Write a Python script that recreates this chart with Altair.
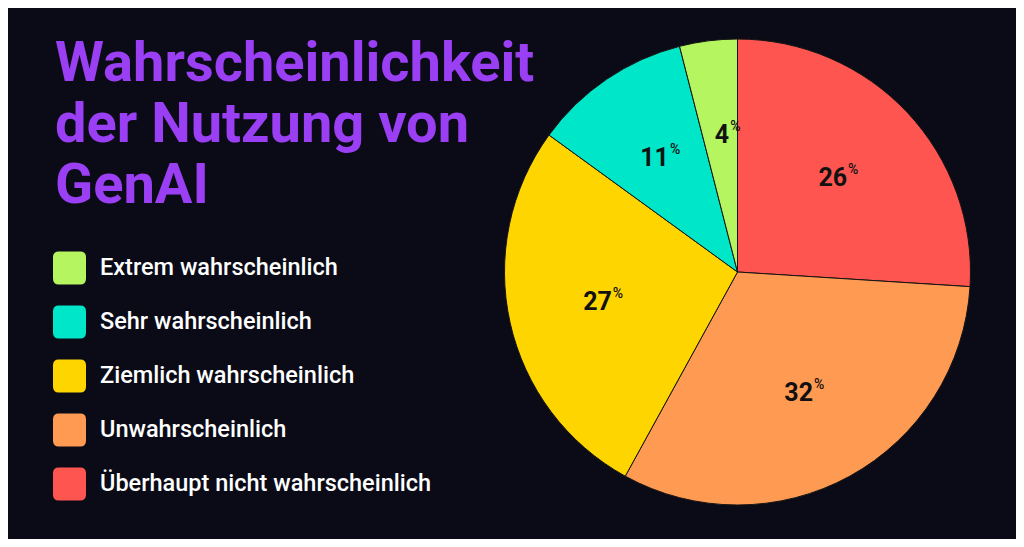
import altair as alt
import pandas as pd

# Data (pie order, clockwise from 12 o'clock)
categories = ["Überhaupt nicht wahrscheinlich", "Unwahrscheinlich",
              "Ziemlich wahrscheinlich", "Sehr wahrscheinlich", "Extrem wahrscheinlich"]
values = [26, 32, 27, 11, 4]

# Legend order and colours
legend_order = ["Extrem wahrscheinlich", "Sehr wahrscheinlich", "Ziemlich wahrscheinlich",
                "Unwahrscheinlich", "Überhaupt nicht wahrscheinlich"]
legend_colors = ["#b5f560", "#00e6c8", "#ffd500", "#ff9a52", "#ff5550"]

title_lines = ["Wahrscheinlichkeit", "der Nutzung von", "GenAI"]

BG = "#0a0b17"
PURPLE = "#9b3ff4"

df = pd.DataFrame({
    "category": categories,
    "value": values,
    "order": list(range(len(categories))),
})
df["label"] = df["value"].astype(str)

cx, cy, R = 729.5, 264, 233
rounded = ("M-0.65,-1 L0.65,-1 Q1,-1 1,-0.65 L1,0.65 Q1,1 0.65,1 L-0.65,1 "
           "Q-1,1 -1,0.65 L-1,-0.65 Q-1,-1 -0.65,-1 Z")

base = alt.Chart(df).encode(
    theta=alt.Theta("value:Q", stack=True),
    order=alt.Order("order:Q"),
    x=alt.value(cx),
    y=alt.value(cy),
)

arcs = base.mark_arc(outerRadius=R, stroke="#141414", strokeWidth=1).encode(
    color=alt.Color(
        "category:N",
        scale=alt.Scale(domain=legend_order, range=legend_colors),
        legend=alt.Legend(
            title=None, orient="none", legendX=45, legendY=243.5,
            direction="vertical", symbolType=rounded, symbolSize=1089,
            symbolStrokeWidth=0, symbolOpacity=1,
            labelFont="Roboto", labelFontSize=23.5, labelFontWeight=500,
            labelColor="#ffffff", labelOffset=14, rowPadding=21,
            padding=0, labelLimit=600,
        ),
    )
)

nums = base.mark_text(radius=138, font="Roboto", fontSize=25, fontWeight="bold",
                      color="#111111", align="right", baseline="middle", dx=9).encode(
    text="label:N"
)

pct = base.mark_text(radius=138, text="%", font="Roboto", fontSize=14, fontWeight=500,
                     color="#111111", align="left", baseline="middle", dx=10, dy=-8)

chart = alt.layer(arcs, nums, pct).properties(
    width=1008, height=531,
    padding=0,
    autosize=alt.AutoSizeParams(type="none"),
    background=BG,
    title=alt.TitleParams(
        text=title_lines, anchor="start", frame="group", orient="top",
        font="Roboto", fontSize=56, fontWeight="bold", color=PURPLE,
        lineHeight=61, baseline="alphabetic", offset=0, dx=47, dy=251,
    ),
).configure_view(strokeWidth=0)

chart.save("out.html", embed_options={"renderer": "svg", "actions": False})
